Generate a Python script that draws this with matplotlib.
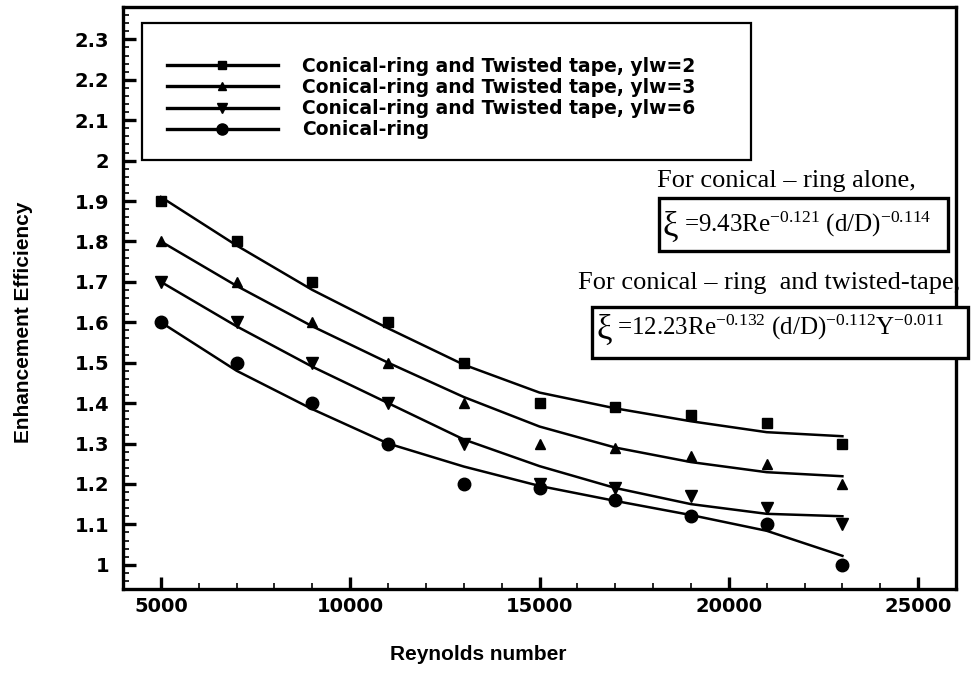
import matplotlib
matplotlib.use("Agg")
import matplotlib.pyplot as plt
from matplotlib.patches import Rectangle
from matplotlib.ticker import FixedLocator, MultipleLocator

plt.rcParams["font.family"] = ["Liberation Sans", "DejaVu Sans"]
plt.rcParams["mathtext.fontset"] = "custom"
plt.rcParams["mathtext.rm"] = "Liberation Serif"
plt.rcParams["mathtext.it"] = "Liberation Serif"

# measured points
reynolds = [5000, 7000, 9000, 11000, 13000, 15000, 17000, 19000, 21000, 23000]
eff_ylw2 = [1.90, 1.80, 1.70, 1.60, 1.50, 1.40, 1.39, 1.37, 1.35, 1.30]
eff_ylw3 = [1.80, 1.70, 1.60, 1.50, 1.40, 1.30, 1.29, 1.27, 1.25, 1.20]
eff_ylw6 = [1.70, 1.60, 1.50, 1.40, 1.30, 1.20, 1.19, 1.17, 1.14, 1.10]
eff_ring = [1.60, 1.50, 1.40, 1.30, 1.20, 1.19, 1.16, 1.12, 1.10, 1.00]

# fitted curves at the same Re values
fit_ylw2 = [1.91, 1.79, 1.68, 1.585, 1.495, 1.426, 1.387, 1.355, 1.328, 1.318]
fit_ylw3 = [1.80, 1.69, 1.59, 1.50, 1.415, 1.342, 1.29, 1.254, 1.229, 1.219]
fit_ylw6 = [1.70, 1.59, 1.49, 1.40, 1.31, 1.244, 1.19, 1.15, 1.126, 1.12]
fit_ring = [1.60, 1.48, 1.385, 1.30, 1.243, 1.195, 1.158, 1.123, 1.084, 1.022]

labels = [
    "Conical-ring and Twisted tape, ylw=2",
    "Conical-ring and Twisted tape, ylw=3",
    "Conical-ring and Twisted tape, ylw=6",
    "Conical-ring",
]
markers = ["s", "^", "v", "o"]
msizes = [7, 7, 8, 9]

x_ticks = [5000, 10000, 15000, 20000, 25000]
y_ticks = [1.0, 1.1, 1.2, 1.3, 1.4, 1.5, 1.6, 1.7, 1.8, 1.9, 2.0, 2.1, 2.2, 2.3]
y_tick_labels = ["1", "1.1", "1.2", "1.3", "1.4", "1.5", "1.6", "1.7", "1.8",
                 "1.9", "2", "2.1", "2.2", "2.3"]

W, H = 977, 677
fig = plt.figure(figsize=(W / 100, H / 100), dpi=100)


def fx(px):
    return px / W


def fy(py):
    return 1 - py / H


ax = fig.add_axes([fx(123), fy(589), fx(956) - fx(123), fy(7) - fy(589)])

series = [(eff_ylw2, fit_ylw2), (eff_ylw3, fit_ylw3),
          (eff_ylw6, fit_ylw6), (eff_ring, fit_ring)]
handles = []
for (pts, fit), m, ms, lab in zip(series, markers, msizes, labels):
    ax.plot(reynolds, fit, color="black", lw=1.8, zorder=2)
    ax.plot(reynolds, pts, ls="none", marker=m, ms=ms, color="black", zorder=3)
    h, = ax.plot([], [], color="black", lw=2.4, marker=m, ms=ms - 1, label=lab)
    handles.append(h)

ax.set_xlim(4000, 26000)
ax.set_ylim(0.94, 2.38)
ax.xaxis.set_major_locator(FixedLocator(x_ticks))
ax.xaxis.set_minor_locator(MultipleLocator(1000))
ax.yaxis.set_major_locator(FixedLocator(y_ticks))
ax.set_yticklabels(y_tick_labels)
ax.yaxis.set_minor_locator(MultipleLocator(0.02))
ax.set_xticklabels([str(v) for v in x_ticks])

for s in ax.spines.values():
    s.set_linewidth(2.4)
ax.tick_params(which="major", direction="in", length=9, width=2.4,
               labelsize=14, top=False, right=False)
ax.tick_params(which="minor", direction="in", length=4.5, width=1.2,
               top=False, right=False)
ax.tick_params(axis="y", which="major", pad=10)
ax.tick_params(axis="x", which="major", pad=6)
for t in ax.get_xticklabels() + ax.get_yticklabels():
    t.set_family("DejaVu Sans")
    t.set_fontweight("bold")

fig.text(fx(478), fy(655), "Reynolds number", ha="center", va="center",
         fontsize=15, fontweight="bold")
fig.text(fx(24), fy(322), "Enhancement Efficiency", ha="center", va="center",
         rotation=90, fontsize=15, fontweight="bold")

# legend box
fig.patches.append(Rectangle((fx(142), fy(160)), fx(751) - fx(142),
                             fy(23) - fy(160), transform=fig.transFigure,
                             fill=False, ec="black", lw=1.6, zorder=5))
leg = fig.legend(handles=handles, loc="center left",
                 bbox_to_anchor=(fx(167), fy(98)), frameon=False,
                 handlelength=5.9, handletextpad=1.3, labelspacing=0.12,
                 borderpad=0, borderaxespad=0,
                 prop={"family": "DejaVu Sans", "weight": "bold", "size": 13.5})

# correlations
serif = "Liberation Serif"
fig.text(fx(657), fy(181), "For conical \u2013 ring alone,", family=serif,
         fontsize=19, va="center", ha="left")
fig.patches.append(Rectangle((fx(659), fy(251)), fx(948) - fx(659),
                             fy(198) - fy(251), transform=fig.transFigure,
                             facecolor="white", ec="black", lw=2.4, zorder=5))
fig.text(fx(663), fy(227), "\u03be", family=serif, fontsize=25,
         va="center", ha="left", zorder=6)
fig.text(fx(684), fy(224), r"=9.43Re$^{-0.121}$ (d/D)$^{-0.114}$",
         family=serif, fontsize=18, va="center", ha="left", zorder=6)

fig.text(fx(578), fy(283), "For conical \u2013 ring  and twisted-tape,",
         family=serif, fontsize=19, va="center", ha="left", zorder=6)
fig.patches.append(Rectangle((fx(592), fy(358)), fx(968) - fx(592),
                             fy(307) - fy(358), transform=fig.transFigure,
                             facecolor="white", ec="black", lw=2.4, zorder=5))
fig.text(fx(596), fy(330), "\u03be", family=serif, fontsize=25,
         va="center", ha="left", zorder=6)
fig.text(fx(617), fy(327), r"=12.23Re$^{-0.132}$ (d/D)$^{-0.112}$Y$^{-0.011}$",
         family=serif, fontsize=18, va="center", ha="left", zorder=6)

fig.savefig("out.png", dpi=100)
